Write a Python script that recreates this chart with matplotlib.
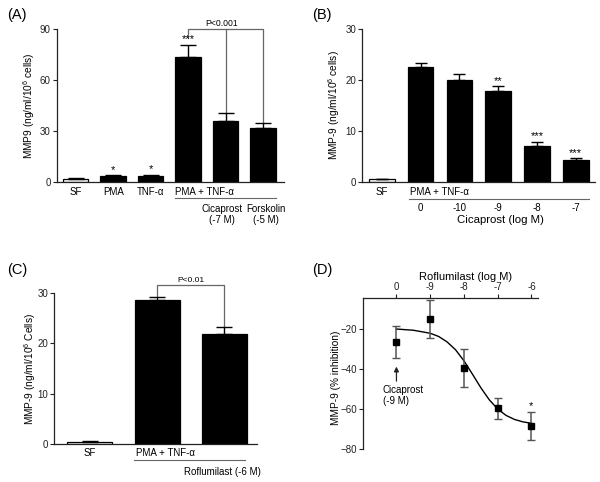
import matplotlib
matplotlib.use("Agg")
import matplotlib.pyplot as plt
import matplotlib.transforms as mtransforms

plt.rcParams["font.family"] = ["Liberation Sans", "DejaVu Sans"]
plt.rcParams["mathtext.fontset"] = "custom"
plt.rcParams["mathtext.rm"] = "Liberation Sans"
plt.rcParams["mathtext.it"] = "Liberation Sans:italic"

# ---- data ----
a_labels = ["SF", "PMA", "TNF-α"]
a_values = [1.8, 3.4, 3.5, 73.7, 36.0, 32.0]
a_errors = [0.2, 0.3, 0.5, 7.3, 4.7, 2.4]
a_stars = ["", "*", "*", "***", "", ""]

b_values = [0.45, 22.6, 20.1, 17.9, 7.1, 4.3]
b_errors = [0.15, 0.8, 1.1, 0.9, 0.8, 0.35]
b_stars = ["", "", "", "**", "***", "***"]
b_doses = ["0", "-10", "-9", "-8", "-7"]

c_values = [0.5, 28.5, 21.8]
c_errors = [0.1, 0.7, 1.3]

d_x = [-10, -9, -8, -7, -6]
d_ticklabels = ["0", "-9", "-8", "-7", "-6"]
d_mean = [-26.6, -15.0, -39.8, -59.7, -68.3]
d_lo = [-34.5, -24.6, -49.1, -65.0, -75.4]
d_hi = [-18.7, -5.6, -30.2, -54.7, -61.7]
fit_x = [-10, -9.5, -9, -8.75, -8.5, -8.25, -8, -7.75, -7.5, -7.25, -7,
         -6.75, -6.5, -6.25, -6]
fit_y = [-20.2, -20.8, -22.3, -23.9, -26.6, -30.5, -36.0, -42.6, -49.4,
         -55.4, -60.0, -63.2, -65.2, -66.4, -67.1]

FS = 7.0
TICK_FS = 7.0
YL_FS = 7.3
STAR_FS = 8
SPINE = "#222222"
GRAY = "#666666"


def style_axes(ax):
    for s in ("top", "right"):
        ax.spines[s].set_visible(False)
    for s in ("left", "bottom"):
        ax.spines[s].set_color(SPINE)
        ax.spines[s].set_linewidth(0.9)
    ax.tick_params(axis="y", direction="out", length=3, width=0.8,
                   labelsize=TICK_FS, pad=1.5, colors=SPINE)
    ax.set_xticks([])


def bars(ax, values, errors, width, capsize, white=(0,)):
    xs = list(range(len(values)))
    colors = ["white" if i in white else "black" for i in xs]
    ax.bar(xs, values, width=width, color=colors, edgecolor="black",
           linewidth=0.9, zorder=2)
    lower = [0] * len(values)
    ax.errorbar(xs, values, yerr=[lower, errors], fmt="none", ecolor="black",
                elinewidth=1.0, capsize=capsize, capthick=1.0, zorder=3)
    return xs


fig = plt.figure(figsize=(6.0, 4.82), dpi=100)

# ---------------- (A) ----------------
axA = fig.add_axes([0.095, 0.623, 0.378, 0.316])
style_axes(axA)
xs = bars(axA, a_values, a_errors, 0.68, 5.5)
axA.set_xlim(-0.5, 5.55)
axA.set_ylim(0, 90)
axA.set_yticks([0, 30, 60, 90])
axA.set_ylabel("MMP9 (ng/ml/10$^{6}$ cells)", fontsize=YL_FS)
axA.yaxis.set_label_coords(-0.090, 0.5)
trA = mtransforms.blended_transform_factory(axA.transData, axA.transAxes)
for i, lab in enumerate(a_labels):
    axA.text(i, -0.066, lab, transform=trA, ha="center", va="center", fontsize=FS)
axA.text(2.66, -0.066, "PMA + TNF-α", transform=trA, ha="left", va="center", fontsize=FS)
axA.plot([2.66, 5.35], [-0.105, -0.105], transform=trA, color=GRAY, lw=0.8, clip_on=False)
axA.text(3.89, -0.217, "Cicaprost\n(-7 M)", transform=trA, ha="center", va="center",
         fontsize=FS, linespacing=1.1)
axA.text(5.07, -0.217, "Forskolin\n(-5 M)", transform=trA, ha="center", va="center",
         fontsize=FS, linespacing=1.1)
for x, v, e, s in zip(xs, a_values, a_errors, a_stars):
    if s:
        axA.text(x, v + e + 0.3, s, ha="center", va="bottom", fontsize=STAR_FS)
# bracket P<0.001
axA.plot([3, 3, 5, 5], [85, 90, 90, a_values[5] + a_errors[5]], color=GRAY, lw=0.9,
         clip_on=False)
axA.plot([4, 4], [90, a_values[4] + a_errors[4]], color=GRAY, lw=0.9, clip_on=False)
axA.text(3.9, 93.3, "P<0.001", ha="center", va="center", fontsize=6.2)

# ---------------- (B) ----------------
axB = fig.add_axes([0.604, 0.623, 0.388, 0.316])
style_axes(axB)
xs = bars(axB, b_values, b_errors, 0.66, 4.5)
axB.set_xlim(-0.5, 5.5)
axB.set_ylim(0, 30)
axB.set_yticks([0, 10, 20, 30])
axB.set_ylabel("MMP-9 (ng/ml/10$^{6}$ cells)", fontsize=YL_FS)
axB.yaxis.set_label_coords(-0.089, 0.5)
trB = mtransforms.blended_transform_factory(axB.transData, axB.transAxes)
axB.text(0, -0.066, "SF", transform=trB, ha="center", va="center", fontsize=FS)
axB.text(0.72, -0.066, "PMA + TNF-α", transform=trB, ha="left", va="center", fontsize=FS)
axB.plot([0.69, 5.34], [-0.114, -0.114], transform=trB, color=GRAY, lw=0.8, clip_on=False)
for i, d in enumerate(b_doses):
    axB.text(i + 1, -0.175, d, transform=trB, ha="center", va="center", fontsize=FS)
axB.text(3.05, -0.252, "Cicaprost (log M)", transform=trB, ha="center", va="center",
         fontsize=8.2)
for x, v, e, s in zip(xs, b_values, b_errors, b_stars):
    if s:
        axB.text(x, v + e + 0.1, s, ha="center", va="bottom", fontsize=STAR_FS)

# ---------------- (C) ----------------
axC = fig.add_axes([0.0905, 0.078, 0.338, 0.315])
style_axes(axC)
xs = bars(axC, c_values, c_errors, 0.67, 5.5)
axC.set_xlim(-0.53, 2.49)
axC.set_ylim(0, 30)
axC.set_yticks([0, 10, 20, 30])
axC.set_ylabel("MMP-9 (ng/ml/10$^{6}$ Cells)", fontsize=YL_FS)
axC.yaxis.set_label_coords(-0.080, 0.5)
trC = mtransforms.blended_transform_factory(axC.transData, axC.transAxes)
axC.text(0, -0.059, "SF", transform=trC, ha="center", va="center", fontsize=FS)
axC.text(0.69, -0.059, "PMA + TNF-α", transform=trC, ha="left", va="center", fontsize=FS)
axC.plot([0.66, 2.31], [-0.104, -0.104], transform=trC, color=GRAY, lw=0.8, clip_on=False)
axC.text(2.55, -0.181, "Roflumilast (-6 M)", transform=trC, ha="right", va="center",
         fontsize=FS)
axC.plot([1, 1, 2, 2], [c_values[1] + c_errors[1] + 0.2, 31.4, 31.4,
                        c_values[2] + c_errors[2]], color=GRAY, lw=0.9, clip_on=False)
axC.text(1.5, 32.3, "P<0.01", ha="center", va="center", fontsize=6.0)

# ---------------- (D) ----------------
axD = fig.add_axes([0.6045, 0.068, 0.2925, 0.314])
for s in ("bottom", "right"):
    axD.spines[s].set_visible(False)
for s in ("left", "top"):
    axD.spines[s].set_color(SPINE)
    axD.spines[s].set_linewidth(0.9)
axD.xaxis.set_ticks_position("top")
axD.xaxis.set_label_position("top")
axD.tick_params(direction="out", length=3, width=0.8, labelsize=TICK_FS, pad=1.2,
                colors=SPINE)
axD.set_xlim(-11, -5.8)
axD.set_ylim(-80, -4.7)
axD.set_xticks(d_x)
axD.set_xticklabels(d_ticklabels)
axD.set_yticks([-80, -60, -40, -20])
axD.set_xlabel("Roflumilast (log M)", fontsize=8.0)
axD.xaxis.set_label_coords(0.584, 1.118)
axD.set_ylabel("MMP-9 (% inhibition)", fontsize=YL_FS)
axD.yaxis.set_label_coords(-0.121, 0.47)
axD.plot(fit_x, fit_y, color="black", lw=1.0, zorder=2)
yerr = [[m - lo for m, lo in zip(d_mean, d_lo)], [hi - m for m, hi in zip(d_mean, d_hi)]]
axD.errorbar(d_x, d_mean, yerr=yerr, fmt="s", color="black", ms=3.8,
             ecolor="#555555", elinewidth=1.1, capsize=2.8, capthick=1.0, zorder=3,
             clip_on=False)
axD.annotate("", xy=(-10, -37.5), xytext=(-10, -47.5),
             arrowprops=dict(arrowstyle="-|>", color=SPINE, lw=0.9,
                             mutation_scale=7))
axD.text(-10.4, -47.8, "Cicaprost\n(-9 M)", ha="left", va="top", fontsize=FS,
         linespacing=1.15)
axD.text(-6, -61.0, "*", ha="center", va="bottom", fontsize=STAR_FS)

# panel labels
for lab, x, y in [("(A)", 0.012, 0.969), ("(B)", 0.52, 0.969),
                  ("(C)", 0.012, 0.44), ("(D)", 0.52, 0.44)]:
    fig.text(x, y, lab, fontsize=10.5, ha="left", va="center")

fig.savefig("out.png", dpi=100)
plt.close(fig)
